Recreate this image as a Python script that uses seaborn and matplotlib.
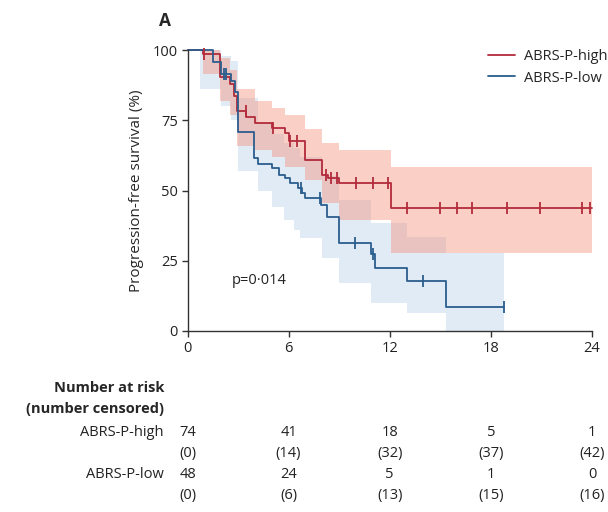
import numpy as np
import pandas as pd
import matplotlib
matplotlib.use("Agg")
import matplotlib.pyplot as plt
import matplotlib.transforms as mtransforms
from matplotlib.lines import Line2D
import seaborn as sns

# ---------------- data ----------------
high_times = [0, 0.9, 1.95, 2.5, 2.75, 2.93, 3.5, 4.0, 5.0, 5.8, 6.0, 7.0, 8.0, 8.35, 9.0, 12.08, 24]
high_surv = [100, 98.6, 90.5, 87.8, 83.8, 78.4, 76.3, 74.0, 72.1, 70.3, 67.6, 61.0, 55.5, 54.3, 52.8, 43.7, 43.7]
high_censor = [1.0, 3.45, 5.05, 6.1, 6.5, 8.2, 8.5, 8.87, 10.0, 11.0, 11.9, 13.0, 14.96, 16.0, 16.9,
               18.96, 20.9, 23.4, 23.9]
high_band_t = [0.9, 1.95, 2.5, 2.93, 4.0, 5.0, 5.8, 7.0, 8.0, 9.0, 12.08, 24]
high_band_lo = [91.5, 82, 77, 66, 64.4, 62, 58.5, 53.7, 45.4, 39.5, 27.9, 27.9]
high_band_hi = [100, 97, 93, 86, 82, 79.5, 77, 72, 67, 64.4, 58.5, 58.5]

low_times = [0, 1.5, 2.0, 2.6, 2.8, 3.0, 3.95, 4.2, 5.04, 5.4, 5.8, 6.09, 6.58, 6.78, 6.98, 7.9, 8.27,
             8.96, 10.9, 11.15, 13.0, 15.35, 18.8]
low_surv = [100, 95.8, 91.6, 89.1, 84.9, 70.9, 61.4, 59.4, 57.9, 55.5, 54.3, 52.5, 50.8, 49.0, 47.2,
            44.8, 40.7, 31.2, 27.3, 22.5, 17.8, 8.4, 8.4]
low_censor = [2.15, 2.3, 6.74, 7.87, 9.95, 11.0, 13.95, 18.8]
low_band_t = [0.75, 2.0, 2.6, 3.0, 4.2, 5.0, 5.7, 6.3, 6.7, 8.0, 9.0, 10.9, 13.0, 15.35, 18.8]
low_band_lo = [86, 80, 75, 57, 50, 44.2, 39.5, 35.9, 33, 25.9, 17, 9.9, 6.3, 0, 0]
low_band_hi = [100, 98, 96, 83, 74, 70, 67, 65, 62, 55, 46.6, 38.4, 33.6, 27.9, 27.9]

groups = ["ABRS-P-high", "ABRS-P-low"]
risk_times = [0, 6, 12, 18, 24]
risk_high = [74, 41, 18, 5, 1]
cens_high = [0, 14, 32, 37, 42]
risk_low = [48, 24, 5, 1, 0]
cens_low = [0, 6, 13, 15, 16]
x_ticks = [0, 6, 12, 18, 24]
y_ticks = [0, 25, 50, 75, 100]
p_text = "p=0·014"

# ---------------- styling ----------------
sns.set_style("ticks")
plt.rcParams["font.family"] = ["Open Sans", "DejaVu Sans"]
FS = 10.5
RED = "#b22b3c"
BLUE = "#2b5e8e"
RED_BAND = "#f4826a"
BLUE_BAND = "#9dbfe3"
AXC = "#333333"

W, H = 608, 512
fig = plt.figure(figsize=(W / 100, H / 100), dpi=100)
ax = fig.add_axes([187.5 / W, 1 - 331 / H, (592 - 187.5) / W, (331 - 50) / H])

# confidence bands
ax.fill_between(low_band_t, low_band_lo, low_band_hi, step="post", color=BLUE_BAND, alpha=0.3,
                linewidth=0)
ax.fill_between(high_band_t, high_band_lo, high_band_hi, step="post", color=RED_BAND, alpha=0.38,
                linewidth=0)

df = pd.concat([
    pd.DataFrame({"time": high_times, "surv": high_surv, "group": groups[0]}),
    pd.DataFrame({"time": low_times, "surv": low_surv, "group": groups[1]}),
])
sns.lineplot(data=df, x="time", y="surv", hue="group", palette=[RED, BLUE], estimator=None,
             drawstyle="steps-post", linewidth=1.3, legend=False, ax=ax, sort=False)
for ln in ax.lines:
    ln.set_clip_on(False)


def step_lookup(times, surv, c):
    idx = np.searchsorted(times, c, side="right") - 1
    return np.asarray(surv)[idx]


sns.scatterplot(x=high_censor, y=step_lookup(high_times, high_surv, high_censor), marker="|",
                s=70, linewidth=1.3, color=RED, ax=ax, clip_on=False, zorder=3)
sns.scatterplot(x=low_censor, y=step_lookup(low_times, low_surv, low_censor), marker="|",
                s=70, linewidth=1.3, color=BLUE, ax=ax, clip_on=False, zorder=3)

ax.set_xlim(0, 24)
ax.set_ylim(0, 100)
ax.set_xticks(x_ticks)
ax.set_yticks(y_ticks)
ax.set_xlabel("")
ax.set_ylabel("Progression-free survival (%)", fontsize=11, labelpad=6)
ax.tick_params(axis="both", labelsize=FS, length=4, width=1, color=AXC, labelcolor="#222222",
               direction="out", pad=3)
sns.despine(ax=ax)
for s in ("left", "bottom"):
    ax.spines[s].set_color(AXC)
    ax.spines[s].set_linewidth(1)

ax.text(4.25, 18, p_text, fontsize=FS, color="#222222", ha="center", va="center",
        transform=ax.transData)

# legend
handles = [Line2D([], [], color=RED, lw=1.3), Line2D([], [], color=BLUE, lw=1.3)]
fig.legend(handles, groups, loc="upper right", bbox_to_anchor=(607 / W, 1 - 49 / H),
           frameon=False, fontsize=FS, handlelength=1.9, handletextpad=0.55, labelspacing=0.45,
           borderpad=0, borderaxespad=0)

# panel letter
fig.text(165 / W, 1 - 21 / H, "A", fontsize=12.5, fontweight="bold", ha="center", va="center")

# number at risk table
trans = mtransforms.blended_transform_factory(ax.transData, fig.transFigure)
lab_x = 164 / W
fig.text(lab_x, 1 - 388 / H, "Number at risk", fontsize=FS, fontweight="bold", ha="right", va="center")
fig.text(lab_x, 1 - 409 / H, "(number censored)", fontsize=FS, fontweight="bold", ha="right",
         va="center")
rows = [
    (groups[0], risk_high, cens_high, 433, 453),
    (groups[1], risk_low, cens_low, 474, 496),
]
for name, risk, cens, y1, y2 in rows:
    fig.text(lab_x, 1 - y1 / H, name, fontsize=FS, ha="right", va="center", color="#222222")
    for t, r, c in zip(risk_times, risk, cens):
        ax.text(t, 1 - y1 / H, str(r), fontsize=FS, ha="center", va="center", transform=trans,
                color="#222222", clip_on=False)
        ax.text(t, 1 - y2 / H, f"({c})", fontsize=FS, ha="center", va="center", transform=trans,
                color="#222222", clip_on=False)

fig.savefig("out.png", dpi=100)
